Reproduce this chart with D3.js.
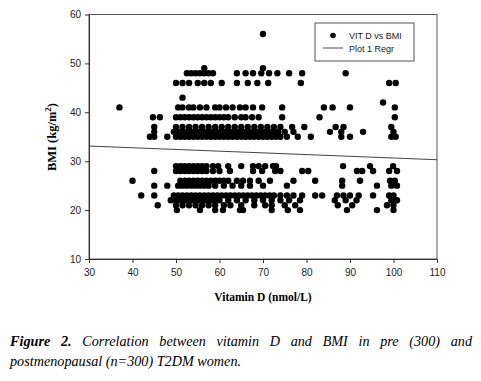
<!DOCTYPE html>
<html>
<head>
<meta charset="utf-8">
<script src="https://cdn.jsdelivr.net/npm/d3@7"></script>
<style>
  body { margin: 0; background: #fff; }
  svg { display: block; }
  .tick text { font-family: "Liberation Sans", Arial, sans-serif; font-size: 10px; fill: #222; }
  .tick line, .domain { stroke: #333; }
</style>
</head>
<body>
<div id="chart"></div>
<script>
// BMI levels and the vitamin D readings seen on each level
const bmiLevels = [56, 49, 48, 46, 43, 42, 41, 39, 37, 36, 35, 29, 28, 26, 25, 23, 22, 21, 20];
const vitDByLevel = [
  [70],
  [56.5, 70],
  [52.5, 53.5, 54.5, 55.5, 56.5, 57.5, 58.5, 64, 66, 67.7, 69.6, 71.4, 73.3, 76, 79, 89],
  [50, 51.5, 53, 55, 56.5, 58, 60.5, 64, 66.5, 68.7, 71.2, 78.7, 99, 100.5],
  [51.5],
  [97.6],
  [37, 50.5, 51.5, 53, 54, 55.5, 57, 59, 60, 61.5, 63, 64.7, 66, 67.7, 69.8, 74.4, 84, 86, 90, 100.3],
  [44.7, 46.3, 50, 51, 52, 53, 54, 55, 56, 57, 58, 59, 60, 61, 62, 63.5, 65, 66, 67.5, 69, 74.4, 83, 100.3],
  [45, 50, 51.5, 53, 54.5, 56, 57.5, 59, 60.5, 62, 63.5, 65, 66.5, 68, 69.5, 71, 72.5, 74, 76.7, 79.5, 86.7, 88.5, 99.5],
  [45, 49.5, 50.5, 51.5, 52.5, 53.5, 54.5, 55.5, 56.5, 57.5, 58.5, 59.5, 60.5, 61.5, 62.5, 63.5, 64.5, 65.5, 66.5, 67.5, 68.5, 69.5, 70.5, 71.5, 72.5, 73.5, 75, 77, 85.4, 88, 93, 100],
  [44, 45, 48, 50, 51, 52, 53, 54, 55, 56, 57, 58, 59, 60, 61, 62, 63, 64, 65, 66, 67, 68, 69, 70, 71, 72, 73, 74, 75.5, 78, 81, 88, 90, 99.5, 100.5],
  [50, 51, 52, 53, 54, 55, 56, 57, 58.5, 59.7, 62, 65, 67.7, 69, 70.5, 72.3, 73, 88.4, 94.6, 99.9],
  [45, 50, 51, 52, 53, 54, 55, 56, 57, 58.5, 60, 62.4, 67.7, 69.8, 72.8, 74, 79, 80.4, 91.6, 92.8, 95.3, 99, 100.8],
  [40, 51, 52, 53, 54, 55, 56, 57, 58, 59, 60, 61, 62, 64, 65.4, 67, 69, 71.6, 77, 82, 88.2, 92.3, 99.2, 100.3],
  [45, 48, 50.5, 51.5, 52.5, 53.5, 54.5, 55.5, 56.5, 57.5, 59, 61, 63, 65, 67, 70, 75.5, 88.2, 96.2, 99.5, 100.8],
  [42, 45, 49.5, 50.5, 51.5, 52.5, 53.5, 54.5, 55.5, 56.5, 57.5, 58.5, 59.5, 60.5, 61.5, 62.5, 63.5, 64.5, 65.5, 66.5, 67.5, 68.5, 69.5, 70.5, 71.5, 72.5, 74, 75.5, 77, 79, 82, 83.6, 87, 88.5, 90, 92, 95.3, 99, 100],
  [48.8, 50, 51, 52, 53, 54, 55, 56, 57, 58, 59, 60, 62, 64, 66, 68, 70, 72, 74, 76, 78.5, 86.5, 89, 91.5, 99.5, 100.8],
  [45.8, 50, 51.5, 53, 54.5, 56, 57.5, 59, 61, 62.5, 65, 68, 70.5, 72, 75, 77.4, 87.2, 90.5, 98.5, 100],
  [50.2, 55.5, 59, 60.8, 64.7, 65.4, 72, 75.7, 78.5, 89.3, 96.2, 100]
];

// regression line ends (vitamin D, BMI)
const regrLine = [[30, 33.1], [110, 30.3]];

const xTicks = [30, 40, 50, 60, 70, 80, 90, 100, 110];
const yTicks = [10, 20, 30, 40, 50, 60];

const W = 481, H = 381;
const margin = { top: 14.5, right: 44, bottom: 122, left: 89 };

const svg = d3.select('#chart').append('svg')
  .attr('width', W)
  .attr('height', H);

const x = d3.scaleLinear().domain([30, 110]).range([margin.left, W - margin.right]);
const y = d3.scaleLinear().domain([10, 60]).range([H - margin.bottom, margin.top]);

// frame
svg.append('rect')
  .attr('x', x(30))
  .attr('y', y(60))
  .attr('width', x(110) - x(30))
  .attr('height', y(10) - y(60))
  .attr('fill', 'none')
  .attr('stroke', '#555')
  .attr('stroke-width', 1);

const points = [];
bmiLevels.forEach((b, i) => {
  vitDByLevel[i].forEach(v => points.push({ v, b }));
});

svg.append('g')
  .selectAll('circle')
  .data(points)
  .join('circle')
  .attr('cx', d => x(d.v))
  .attr('cy', d => y(d.b))
  .attr('r', 3.2)
  .attr('fill', '#000');

svg.append('line')
  .attr('x1', x(regrLine[0][0]))
  .attr('y1', y(regrLine[0][1]))
  .attr('x2', x(regrLine[1][0]))
  .attr('y2', y(regrLine[1][1]))
  .attr('stroke', '#444')
  .attr('stroke-width', 1);

svg.append('g')
  .attr('transform', `translate(0,${y(10)})`)
  .call(d3.axisBottom(x).tickValues(xTicks).tickSize(4).tickSizeOuter(0).tickPadding(6));

svg.append('g')
  .attr('transform', `translate(${x(30)},0)`)
  .call(d3.axisLeft(y).tickValues(yTicks).tickSize(4).tickSizeOuter(0).tickPadding(4));

// axis titles
svg.append('text')
  .attr('x', 263)
  .attr('y', 301)
  .attr('text-anchor', 'middle')
  .attr('font-family', '"Liberation Serif", "Times New Roman", serif')
  .attr('font-weight', 'bold')
  .attr('font-size', 11.5)
  .text('Vitamin D (nmol/L)');

const yTitle = svg.append('text')
  .attr('transform', 'translate(56,137) rotate(-90)')
  .attr('text-anchor', 'middle')
  .attr('font-family', '"Liberation Serif", "Times New Roman", serif')
  .attr('font-weight', 'bold')
  .attr('font-size', 12.5);
yTitle.append('tspan').text('BMI (kg/m');
yTitle.append('tspan').attr('dy', -5).attr('font-size', 9).text('2');
yTitle.append('tspan').attr('dy', 5).text(')');

// legend
const leg = svg.append('g');
leg.append('rect')
  .attr('x', 315).attr('y', 23)
  .attr('width', 99).attr('height', 38)
  .attr('fill', '#fff')
  .attr('stroke', '#555');
leg.append('circle').attr('cx', 333).attr('cy', 35.5).attr('r', 2.8).attr('fill', '#000');
leg.append('line')
  .attr('x1', 323).attr('x2', 343).attr('y1', 48).attr('y2', 48)
  .attr('stroke', '#444');
leg.selectAll('text.lab')
  .data(['VIT D vs BMI', 'Plot 1 Regr'])
  .join('text')
  .attr('class', 'lab')
  .attr('x', 349)
  .attr('y', (d, i) => 39 + i * 12.5)
  .attr('font-family', '"Liberation Sans", Arial, sans-serif')
  .attr('font-size', 9)
  .attr('fill', '#222')
  .text(d => d);

// caption
const capFont = '"Liberation Serif", "Times New Roman", serif';
const cap1 = svg.append('text')
  .attr('x', 10)
  .attr('y', 346)
  .attr('font-family', capFont)
  .attr('font-style', 'italic')
  .attr('font-size', 14.2);
cap1.append('tspan').attr('font-weight', 'bold').text('Figure 2.');
cap1.append('tspan').text(' Correlation between vitamin D and BMI in pre (300) and');

// justify first caption line across the page width
const target = 472 - 10;
const len = cap1.node().getComputedTextLength();
const spaces = 11;
cap1.attr('word-spacing', Math.max(0, (target - len) / spaces));

svg.append('text')
  .attr('x', 10)
  .attr('y', 366)
  .attr('font-family', capFont)
  .attr('font-style', 'italic')
  .attr('font-size', 14.2)
  .text('postmenopausal (n=300) T2DM women.');
</script>
</body>
</html>
